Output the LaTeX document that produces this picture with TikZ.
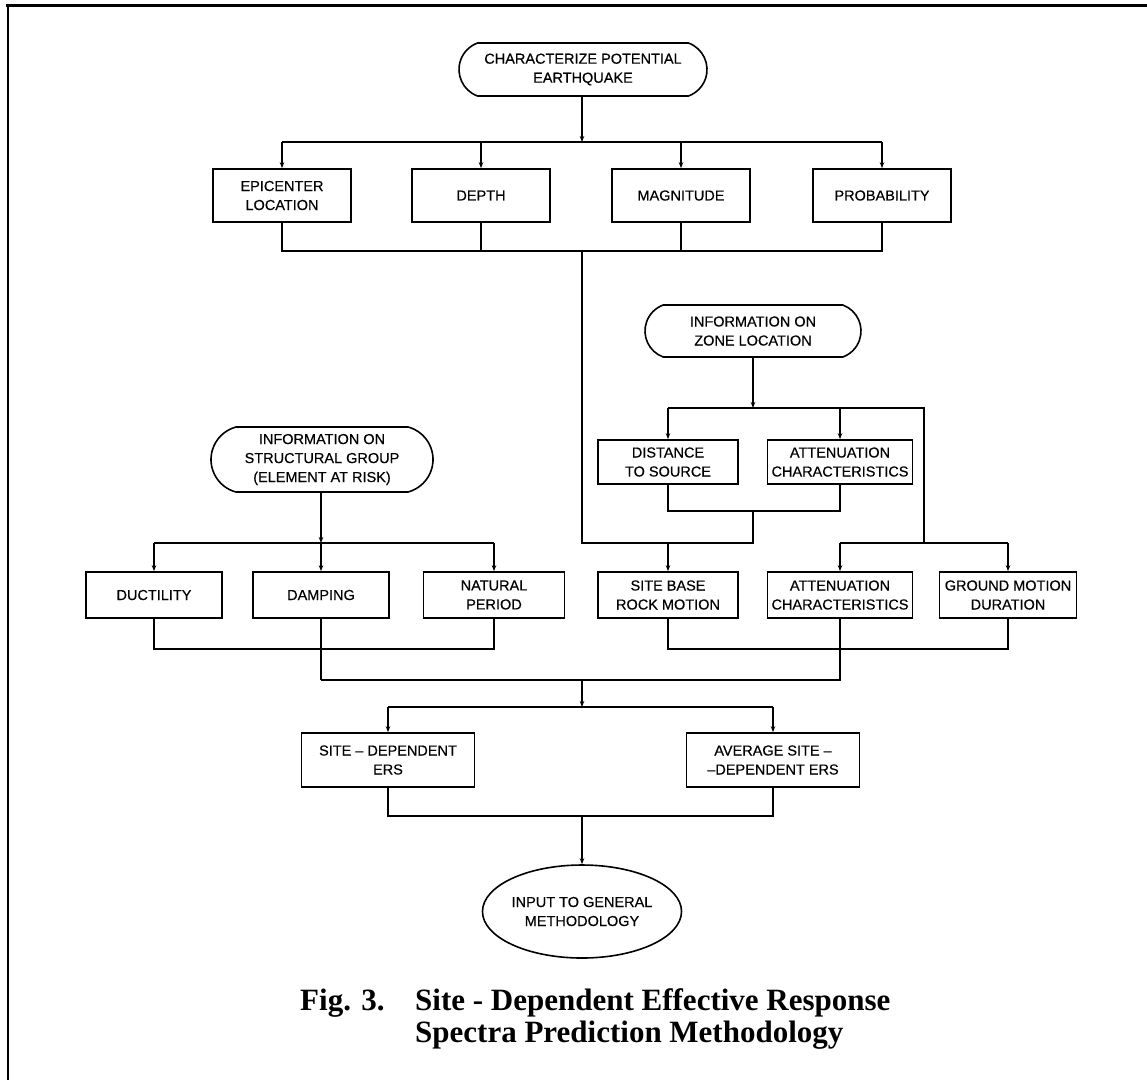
\documentclass[tikz,border=0pt]{standalone}
\usepackage{fontspec}
\newfontfamily\diagfont[FakeBold=0.4]{Liberation Sans}
\newfontfamily\capfont{Liberation Serif}
\usetikzlibrary{shapes.misc,shapes.geometric,arrows.meta}
\begin{document}
\begin{tikzpicture}[x=1pt,y=-1pt,
  lbl/.style={font=\diagfont\fontsize{14.5}{19}\selectfont, align=center, inner sep=0pt},
  box/.style={lbl, draw, line width=1.7pt},
  term/.style={lbl, draw, line width=1.6pt, rounded rectangle, rounded rectangle arc length=140},
  conn/.style={line width=1.1pt},
  arr/.style={conn, -{Stealth[length=6pt,width=4.5pt]}},
  captxt/.style={font=\capfont\bfseries\fontsize{31}{32}\selectfont, inner sep=0pt, anchor=base west}
]
\useasboundingbox (0,0) rectangle (1147,1080);
% frame
\draw[line width=3pt] (6,5) -- (1147,5);
\draw[line width=2.5pt] (8,5) -- (8,1080);

% top
\node[term, minimum width=248pt, minimum height=53pt] (top) at (583,69.5) {CHARACTERIZE POTENTIAL\\EARTHQUAKE};
\node[box, minimum width=138pt, minimum height=53pt] (epi) at (282,195.5) {EPICENTER\\LOCATION};
\node[box, minimum width=138pt, minimum height=53pt] (depth) at (481,195.5) {DEPTH};
\node[box, minimum width=138pt, minimum height=53pt] (mag) at (681,195.5) {MAGNITUDE};
\node[box, minimum width=138pt, minimum height=53pt] (prob) at (882,195.5) {PROBABILITY};

\coordinate (b1) at (582,142);
\coordinate (c1) at (582,251);
\draw[arr] (top.south -| b1) -- (b1);
\draw[conn] (epi.north |- b1) -- (prob.north |- b1);
\foreach \n in {epi,depth,mag,prob}{\draw[arr] (\n.north |- b1) -- (\n.north);}
\draw[conn] (epi.south) -- (epi.south |- c1) -- (prob.south |- c1) -- (prob.south);
\draw[conn] (depth.south) -- (depth.south |- c1);
\draw[conn] (mag.south) -- (mag.south |- c1);

% zone
\node[term, minimum width=216pt, minimum height=52pt] (zone) at (753,331) {INFORMATION ON\\ZONE LOCATION};
\node[box, minimum width=140pt, minimum height=44pt] (dist) at (668,462) {DISTANCE\\TO SOURCE};
\node[box, minimum width=145pt, minimum height=44pt] (att1) at (840,462) {ATTENUATION\\CHARACTERISTICS};
\coordinate (z1) at (753,408);
\coordinate (zr) at (924,408);
\coordinate (zr2) at (924,543);
\coordinate (z2) at (753,511);
\coordinate (z3) at (753,543);
\coordinate (d1) at (582,543);
\draw[arr] (zone.south) -- (z1);
\draw[conn] (dist.north |- z1) -- (zr) -- (zr2);
\draw[arr] (dist.north |- z1) -- (dist.north);
\draw[arr] (att1.north |- z1) -- (att1.north);
\draw[conn] (dist.south) -- (dist.south |- z2) -- (att1.south |- z2) -- (att1.south);
\draw[conn] (z2) -- (z3) -- (d1) -- (c1);

% row 3 right
\node[box, minimum width=140pt, minimum height=46pt] (site) at (668,595) {SITE BASE\\ROCK MOTION};
\node[box, minimum width=145pt, minimum height=46pt] (att2) at (840,595) {ATTENUATION\\CHARACTERISTICS};
\node[box, minimum width=137pt, minimum height=46pt] (ground) at (1008,595) {GROUND MOTION\\DURATION};
\draw[arr] (site.north |- z3) -- (site.north);
\draw[conn] (att2.north |- zr2) -- (ground.north |- zr2);
\draw[arr] (att2.north |- zr2) -- (att2.north);
\draw[arr] (ground.north |- zr2) -- (ground.north);

% structural
\node[term, rounded rectangle arc length=150, minimum width=222pt, minimum height=65pt] (struct) at (322,459.5) {INFORMATION ON\\STRUCTURAL GROUP\\(ELEMENT AT RISK)};
\node[box, minimum width=136pt, minimum height=46pt] (duct) at (154,595) {DUCTILITY};
\node[box, minimum width=136pt, minimum height=46pt] (damp) at (321,595) {DAMPING};
\node[box, minimum width=141pt, minimum height=46pt] (nat) at (494,595) {NATURAL\\PERIOD};
\coordinate (s1) at (321,543);
\coordinate (s2) at (321,649);
\coordinate (s3) at (321,680);
\draw[arr] (struct.south -| s1) -- (s1);
\draw[conn] (duct.north |- s1) -- (nat.north |- s1);
\foreach \n in {duct,damp,nat}{\draw[arr] (\n.north |- s1) -- (\n.north);}
\draw[conn] (duct.south) -- (duct.south |- s2) -- (nat.south |- s2) -- (nat.south);
\draw[conn] (damp.south) -- (damp.south |- s2) -- (s3);

% lower right collection
\coordinate (r2) at (840,649);
\coordinate (r3) at (840,680);
\draw[conn] (site.south) -- (site.south |- r2) -- (ground.south |- r2) -- (ground.south);
\draw[conn] (att2.south) -- (r2) -- (r3) -- (s3);

% ERS
\coordinate (m3) at (582,680);
\coordinate (m4) at (582,707);
\coordinate (m5) at (582,816);
\node[box, minimum width=173pt, minimum height=54pt] (sdep) at (388,760) {SITE \textendash\ DEPENDENT\\ERS};
\node[box, minimum width=173pt, minimum height=54pt] (avg) at (773,760) {AVERAGE SITE \textendash\\\textendash DEPENDENT ERS};
\draw[arr] (m3) -- (m4);
\draw[conn] (sdep.north |- m4) -- (avg.north |- m4);
\draw[arr] (sdep.north |- m4) -- (sdep.north);
\draw[arr] (avg.north |- m4) -- (avg.north);
\draw[conn] (sdep.south) -- (sdep.south |- m5) -- (avg.south |- m5) -- (avg.south);

\node[lbl, draw, line width=1.6pt, ellipse, minimum width=198pt, minimum height=93pt] (input) at (582,911.5) {INPUT TO GENERAL\\METHODOLOGY};
\draw[arr] (m5) -- (input.north);

% caption
\node[captxt] (fig) at (300,1010) {Fig. 3.};
\node[captxt] (cap1) at (415,1010) {Site - Dependent Effective Response};
\node[captxt] (cap2) at (415,1042) {Spectra Prediction Methodology};
\end{tikzpicture}
\end{document}
